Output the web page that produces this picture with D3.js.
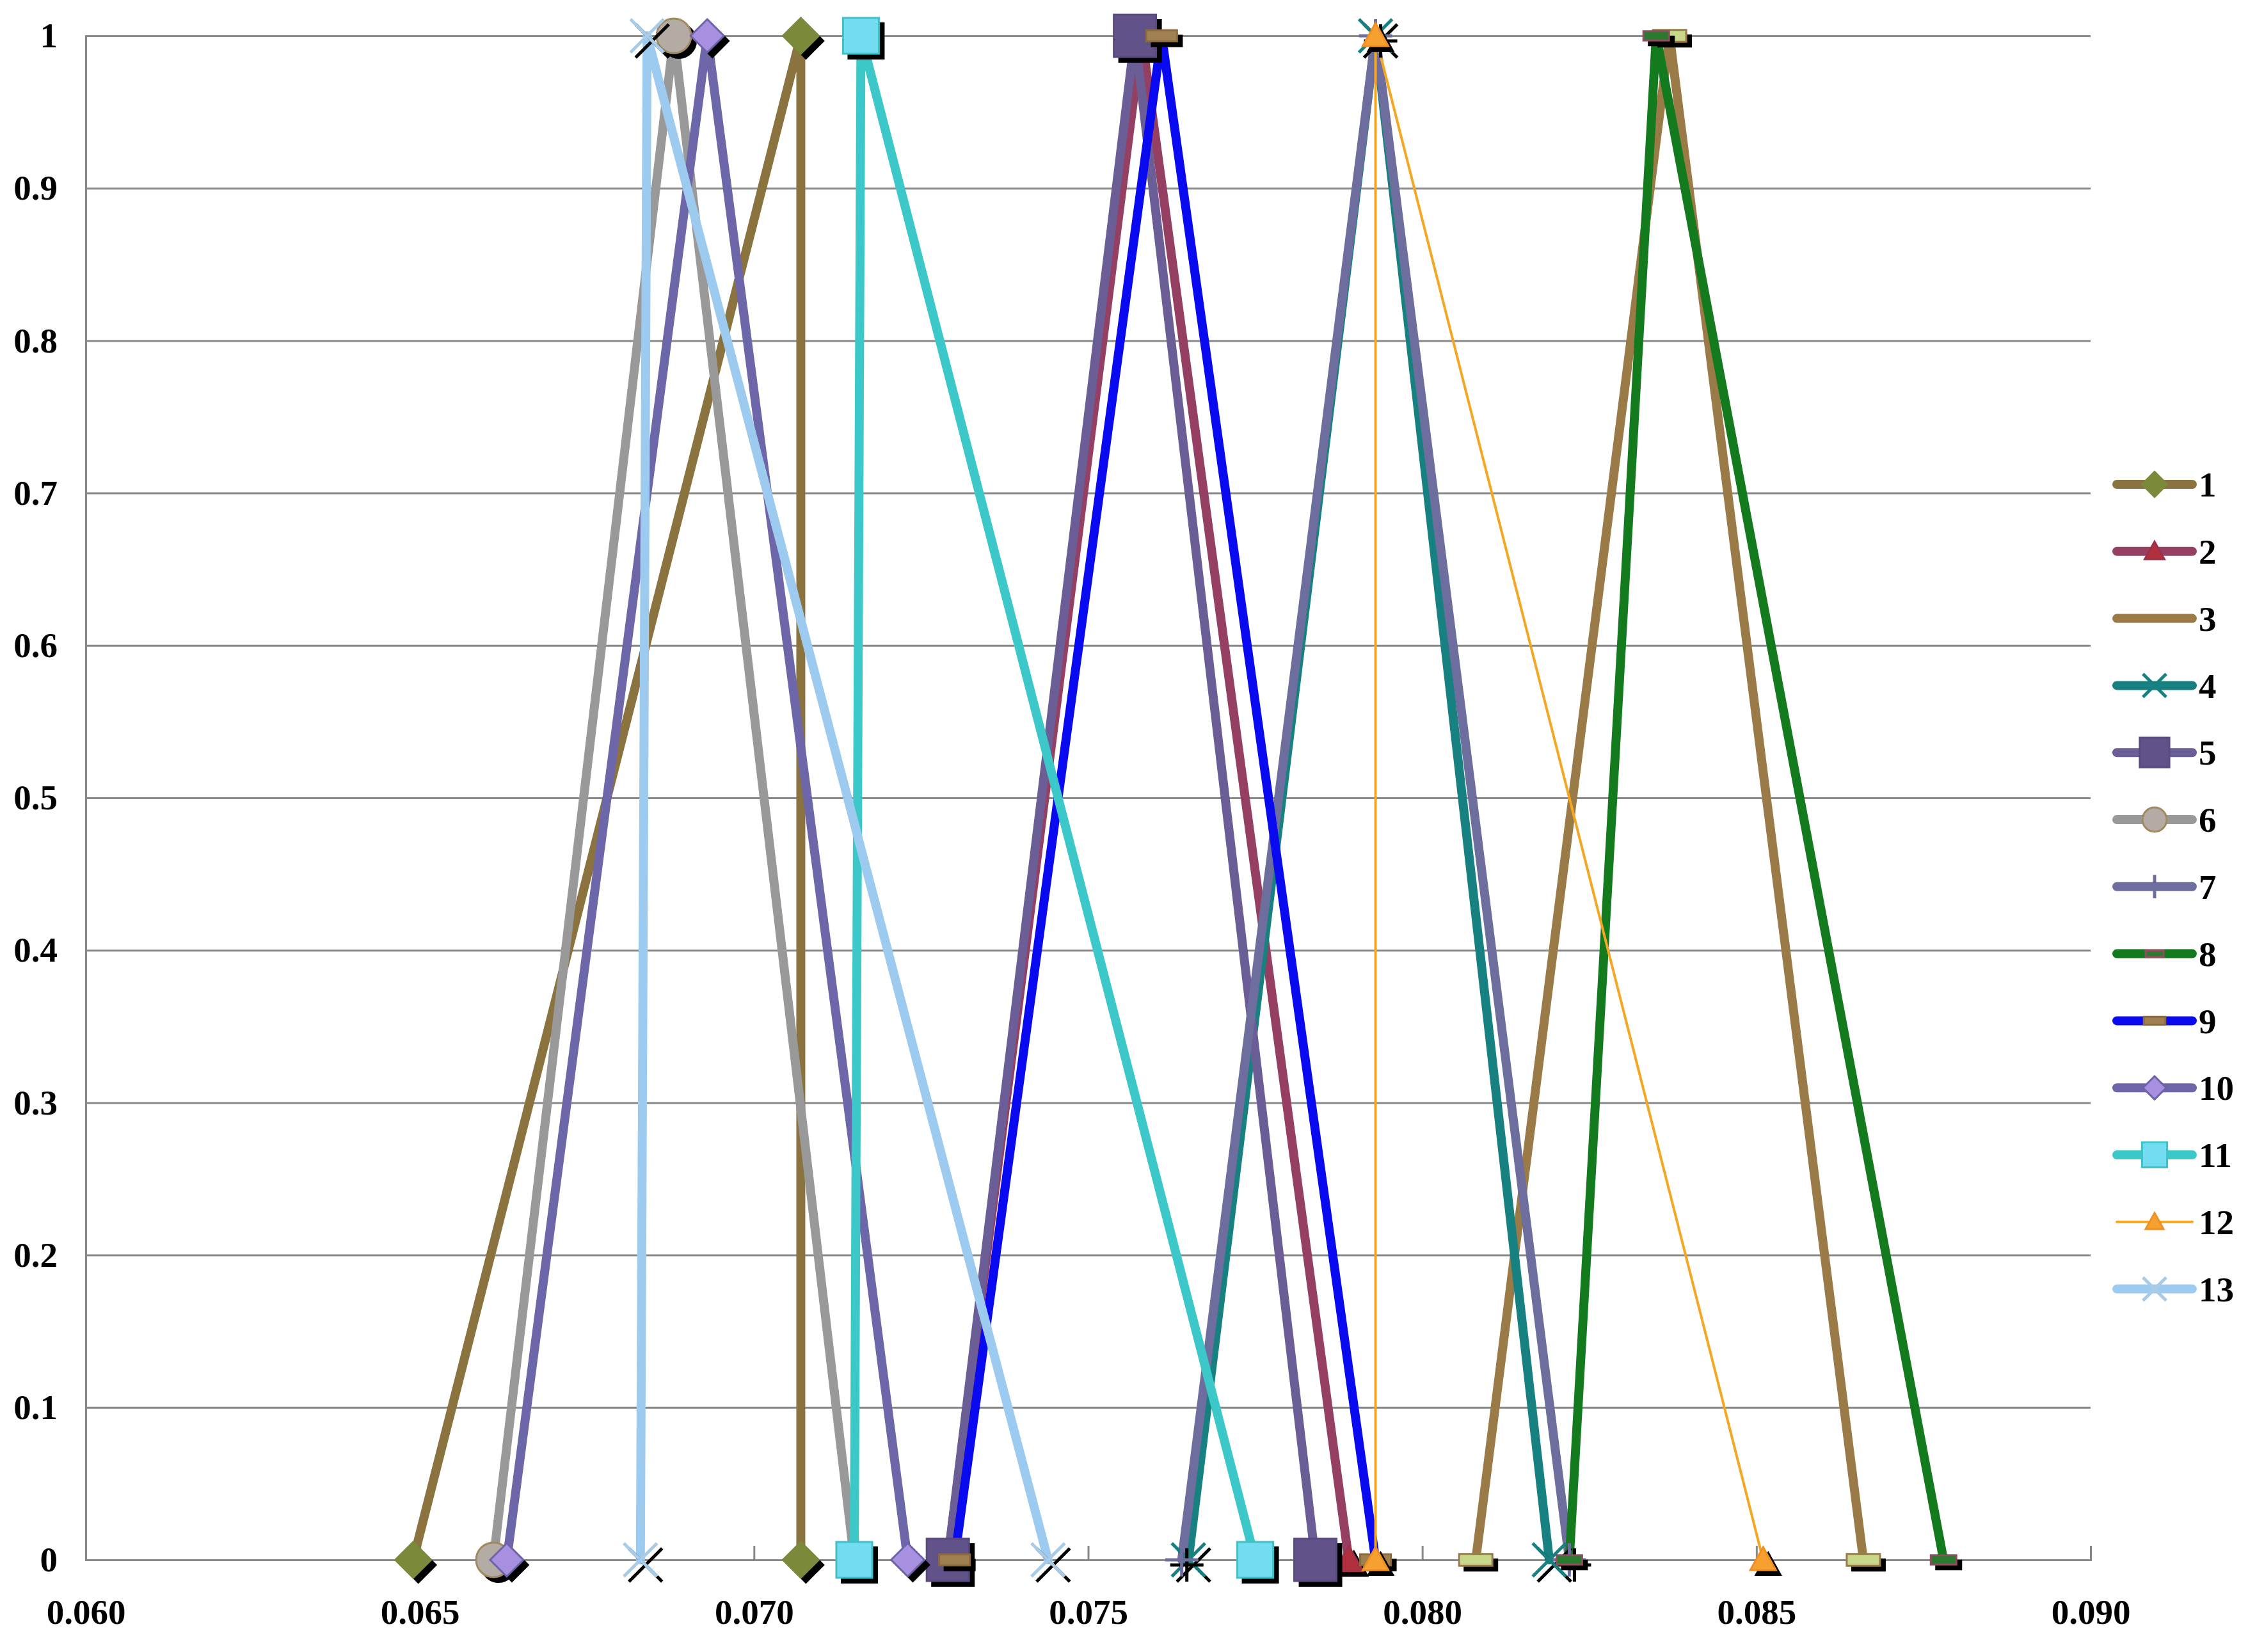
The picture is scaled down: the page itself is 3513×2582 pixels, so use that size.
<!DOCTYPE html>
<html>
<head>
<meta charset="utf-8">
<script src="https://cdn.jsdelivr.net/npm/d3@7"></script>
<style>
  html, body { margin: 0; padding: 0; background: #fff; }
  svg { display: block; }
  .axis text, .legend text { font-family: 'Liberation Serif', 'Times New Roman', serif; font-weight: bold; font-size: 55px; fill: #000; }
</style>
</head>
<body>
<svg id="chart"></svg>
<script>
// series labels and the three x values of each triangle (foot, peak, foot)
const seriesNames = ['1', '2', '3', '4', '5', '6', '7', '8', '9', '10', '11', '12', '13'];
const footLeft = [0.0649, 0.0729, 0.0808, 0.0765, 0.0729, 0.0661, 0.0764, 0.0822, 0.0730, 0.0663, 0.0715, 0.0793, 0.0683];
const peakX = [0.0707, 0.0758, 0.0837, 0.0793, 0.0757, 0.0688, 0.0793, 0.0835, 0.0761, 0.0693, 0.0716, 0.0793, 0.0684];
const footRight = [0.0707, 0.0789, 0.0866, 0.0819, 0.0784, 0.0715, 0.0822, 0.0878, 0.0793, 0.0723, 0.0775, 0.0851, 0.0744];
const membership = [0, 1, 0];

const xTicks = [0.060, 0.065, 0.070, 0.075, 0.080, 0.085, 0.090];
const yTicks = [0, 0.1, 0.2, 0.3, 0.4, 0.5, 0.6, 0.7, 0.8, 0.9, 1];

// look of each series
const lineColors = ['#8b7340', '#953f62', '#9a7a46', '#178080', '#6b5e96', '#999999', '#6e6e9e',
  '#137a1e', '#0a0af0', '#6d66a8', '#3cc8c8', '#f5a623', '#9dcbf0'];
const lineWidths = [14, 14, 14, 14, 14, 14, 14, 14, 14, 14, 14, 4, 14];
const markerTypes = ['diamond', 'triangle', 'dash', 'x', 'square', 'circle', 'plus',
  'dash', 'dash', 'diamond', 'square', 'triangle', 'x'];
const markerSizes = [28, 22, 26, 26, 33, 27, 26, 20, 24, 26, 28, 20, 26];
const markerFills = ['#7a8a3a', '#b0303e', '#c8d88a', 'none', '#62528a', '#b4aca4', 'none',
  '#2a7a30', '#a08050', '#a890e0', '#74dcf0', '#f5a030', 'none'];
const markerStrokes = ['#7a8a3a', '#a03048', '#9a7a46', '#178080', '#5a4a80', '#a08a60', '#6e6e9e',
  '#8e4e5e', '#8a6a40', '#6e62a8', '#40c0c8', '#f09020', '#a8cce8'];
// series 3 shows no marker in its legend entry
const legendMarker = [true, true, false, true, true, true, true, true, true, true, true, true, true];

const width = 3513;
const height = 2582;
const plot = { left: 134, right: 3267, top: 56, bottom: 2438 };

const svg = d3.select('#chart')
  .attr('width', width)
  .attr('height', height);

const x = d3.scaleLinear().domain([0.06, 0.09]).range([plot.left, plot.right]);
const y = d3.scaleLinear().domain([0, 1]).range([plot.bottom, plot.top]);

// gridlines + y labels
const yAxis = d3.axisLeft(y)
  .tickValues(yTicks)
  .tickSize(-(plot.right - plot.left))
  .tickPadding(44)
  .tickFormat(d3.format(''));

svg.append('g')
  .attr('class', 'y axis')
  .attr('transform', `translate(${plot.left},0)`)
  .call(yAxis)
  .call(g => g.select('.domain').attr('stroke', '#888').attr('stroke-width', 3))
  .call(g => g.selectAll('.tick line').attr('stroke', '#888').attr('stroke-width', 3));

// x axis, ticks pointing up into the plot
const xAxis = d3.axisBottom(x)
  .tickValues(xTicks)
  .tickSize(-22)
  .tickPadding(50)
  .tickFormat(d3.format('.3f'));

svg.append('g')
  .attr('class', 'x axis')
  .attr('transform', `translate(0,${plot.bottom})`)
  .call(xAxis)
  .call(g => g.select('.domain').attr('stroke', '#888').attr('stroke-width', 3))
  .call(g => g.selectAll('.tick line').attr('stroke', '#888').attr('stroke-width', 3))
  .call(g => g.selectAll('.tick text').attr('dy', '0.9em'));

const series = seriesNames.map((name, i) => ({
  name,
  i,
  points: [footLeft[i], peakX[i], footRight[i]].map((v, k) => [v, membership[k]]),
}));

function markerPath(type, s) {
  switch (type) {
    case 'diamond': return `M0,${-s}L${s},0L0,${s}L${-s},0Z`;
    case 'square': return `M${-s},${-s}H${s}V${s}H${-s}Z`;
    case 'triangle': return `M0,${-s}L${s},${s * 0.8}L${-s},${s * 0.8}Z`;
    case 'dash': return `M${-s},${-s * 0.36}H${s}V${s * 0.36}H${-s}Z`;
    case 'x': return `M${-s},${-s}L${s},${s}M${s},${-s}L${-s},${s}`;
    case 'plus': return `M0,${-s}V${s}M${-s},0H${s}`;
    case 'circle': return `M${s},0A${s},${s} 0 1,1 ${-s},0A${s},${s} 0 1,1 ${s},0Z`;
    default: return '';
  }
}

const openMarker = t => t === 'x' || t === 'plus';

function drawMarker(g, i, cx, cy, scale, shadow) {
  const type = markerTypes[i];
  const s = markerSizes[i] * scale;
  const d = markerPath(type, s);
  if (shadow) {
    g.append('path')
      .attr('d', d)
      .attr('transform', `translate(${cx + 8},${cy + 8})`)
      .attr('fill', openMarker(type) ? 'none' : '#000')
      .attr('stroke', '#000')
      .attr('stroke-width', openMarker(type) ? 5 : 2);
  }
  g.append('path')
    .attr('d', d)
    .attr('transform', `translate(${cx},${cy})`)
    .attr('fill', openMarker(type) ? 'none' : markerFills[i])
    .attr('stroke', markerStrokes[i])
    .attr('stroke-width', openMarker(type) ? 5 : 3);
}

const line = d3.line()
  .x(d => x(d[0]))
  .y(d => y(d[1]));

// lines first, then markers on top
svg.append('g')
  .attr('class', 'lines')
  .selectAll('path')
  .data(series)
  .enter().append('path')
  .attr('d', d => line(d.points))
  .attr('fill', 'none')
  .attr('stroke', d => lineColors[d.i])
  .attr('stroke-width', d => lineWidths[d.i])
  .attr('stroke-linejoin', 'round')
  .attr('stroke-linecap', 'round');

const markers = svg.append('g').attr('class', 'markers');
series.forEach((s) => {
  s.points.forEach((p) => {
    drawMarker(markers, s.i, x(p[0]), y(p[1]), 1, true);
  });
});

// legend
const legendTop = 757;
const legendStep = 104.8;
const legend = svg.append('g').attr('class', 'legend');
series.forEach((s) => {
  const ly = legendTop + (s.i * legendStep);
  legend.append('line')
    .attr('x1', 3308)
    .attr('x2', 3426)
    .attr('y1', ly)
    .attr('y2', ly)
    .attr('stroke', lineColors[s.i])
    .attr('stroke-width', lineWidths[s.i])
    .attr('stroke-linecap', 'round');
  if (legendMarker[s.i]) drawMarker(legend, s.i, 3367, ly, 0.7, false);
  legend.append('text')
    .attr('x', 3436)
    .attr('y', ly)
    .attr('dy', '0.35em')
    .text(s.name);
});
</script>
</body>
</html>
